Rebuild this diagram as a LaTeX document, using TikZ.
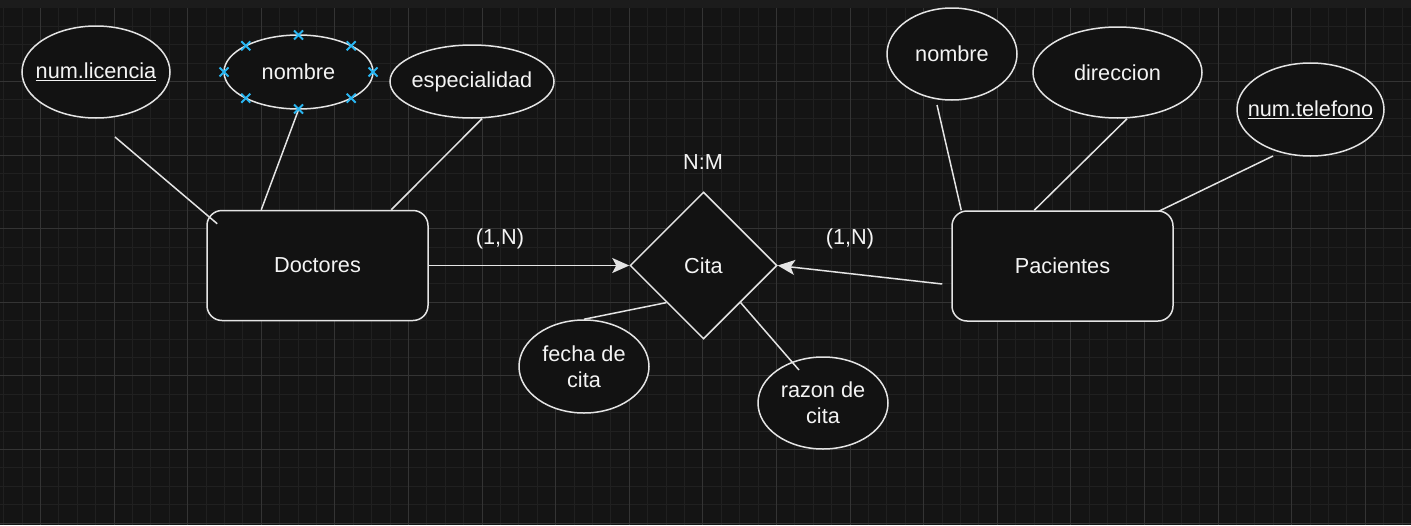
\documentclass[tikz,border=0pt]{standalone}
\usepackage{fontspec}
\setmainfont{Liberation Sans}
\usetikzlibrary{shapes.geometric,arrows.meta,calc}
\definecolor{bg}{HTML}{141414}
\definecolor{topband}{HTML}{1C1C1C}
\definecolor{gridminor}{HTML}{202020}
\definecolor{gridmajor}{HTML}{343434}
\definecolor{stroke}{HTML}{E4E4E4}
\definecolor{handle}{HTML}{29B6F2}
\definecolor{fillc}{HTML}{121212}
\definecolor{txt}{HTML}{F4F4F4}
\newcommand{\nw}[1]{\makebox[0pt][c]{#1}}
\begin{document}
\begin{tikzpicture}[x=1pt,y=-1pt,
  lbl/.style={text=txt,font=\fontsize{21.7}{26}\selectfont,align=center,inner sep=0pt},
  attr/.style={lbl,ellipse,draw=stroke,fill=fillc,line width=1.5pt},
  entity/.style={lbl,rectangle,rounded corners=15pt,draw=stroke,fill=fillc,line width=1.5pt,minimum width=221pt,minimum height=110pt},
  rel/.style={lbl,diamond,aspect=1,draw=stroke,fill=fillc,line width=1.5pt,minimum width=147pt,minimum height=147pt},
  conn/.style={draw=stroke,line width=1.5pt},
  arr/.style={conn,-{Stealth[length=17pt,width=15pt,inset=4pt]}},
  hmark/.style={handle,line width=1.8pt}]
\useasboundingbox (0,0) rectangle (1411,525);
\fill[bg] (0,0) rectangle (1411,525);
% grid
\foreach \i in {0,...,76} {\draw[gridminor,line width=1pt] ({round(3.2+18.4*\i)+0.5},8) -- ({round(3.2+18.4*\i)+0.5},525);}
\foreach \j in {1,...,28} {\draw[gridminor,line width=1pt] (0,{round(7.4+18.4*\j)+0.5}) -- (1411,{round(7.4+18.4*\j)+0.5});}
\foreach \i in {0,...,20} {\draw[gridmajor,line width=1pt] ({round(-33.6+73.6*\i)+0.5},8) -- ({round(-33.6+73.6*\i)+0.5},525);}
\foreach \j in {0,...,6} {\draw[gridmajor,line width=1pt] (0,{round(81+73.6*\j)+0.5}) -- (1411,{round(81+73.6*\j)+0.5});}
\fill[topband] (0,0) rectangle (1411,8);

% entities and relation
\node[entity] (doc) at (317.5,265.5) {Doctores};
\node[entity] (pac) at (1062.5,266) {Pacientes};
\node[rel] (cita) at (703.5,265.5) {Cita};

% attributes
\node[attr,minimum width=148pt,minimum height=92pt] (lic) at (96,72) {\nw{\underline{num.licencia}}};
\node[attr,minimum width=149pt,minimum height=74pt] (nomD) at (298.5,72) {\nw{nombre}};
\node[attr,minimum width=164pt,minimum height=73pt] (esp) at (472,81.5) {\nw{especialidad}};
\node[attr,minimum width=130pt,minimum height=92pt] (nomP) at (952,54) {\nw{nombre}};
\node[attr,minimum width=169pt,minimum height=91pt] (dir) at (1117.5,72.5) {\nw{direccion}};
\node[attr,minimum width=147pt,minimum height=93pt] (tel) at (1310.5,109.5) {\nw{\underline{num.telefono}}};
\node[attr,minimum width=130pt,minimum height=93pt] (fec) at (584,366.5) {fecha de\\cita};
\node[attr,minimum width=130pt,minimum height=92pt] (raz) at (823,403) {razon de\\cita};

% labels
\node[lbl] (nm) at (703,162) {N:M};
\node[lbl] (c1) at (500,239) {(1,N)};
\node[lbl] (c2) at (850,239) {(1,N)};

% free ends
\coordinate (licEnd) at (115,137);
\coordinate (nomPEnd) at (937,105);
\coordinate (telEnd) at (1273,156);
\coordinate (pacStart) at ([xshift=-9pt,yshift=-18pt]pac.west);
\coordinate (razEnd) at ([xshift=-24pt,yshift=33pt]raz.center);

% connectors
\draw[conn] (licEnd) -- ([xshift=11pt,yshift=-14pt]doc.north west);
\draw[conn] (nomD.south) -- ([xshift=55pt]doc.north west);
\draw[conn] ([xshift=10pt]esp.south) -- ([xshift=185pt]doc.north west);
\draw[conn] (nomPEnd) -- ([xshift=10pt]pac.north west);
\draw[conn] ([xshift=9.5pt]dir.south) -- ([xshift=83pt]pac.north west);
\draw[conn] (telEnd) -- ([xshift=-15pt,yshift=-1pt]pac.north east);
\draw[arr] (doc.east) -- (cita.west);
\draw[arr] (pacStart) -- (cita.east);
\draw[conn] ($(cita.west)!0.5!(cita.south)$) -- (fec.north);
\draw[conn] ($(cita.south)!0.5!(cita.east)$) -- (razEnd);

% selection handles on nombre
\foreach \a in {0,45,...,315} {
  \draw[hmark] ($(nomD.center)+({74.5*cos(\a)},{37*sin(\a)})$) +(-4.5,-4.5) -- +(4.5,4.5) +(-4.5,4.5) -- +(4.5,-4.5);
}
\end{tikzpicture}
\end{document}
